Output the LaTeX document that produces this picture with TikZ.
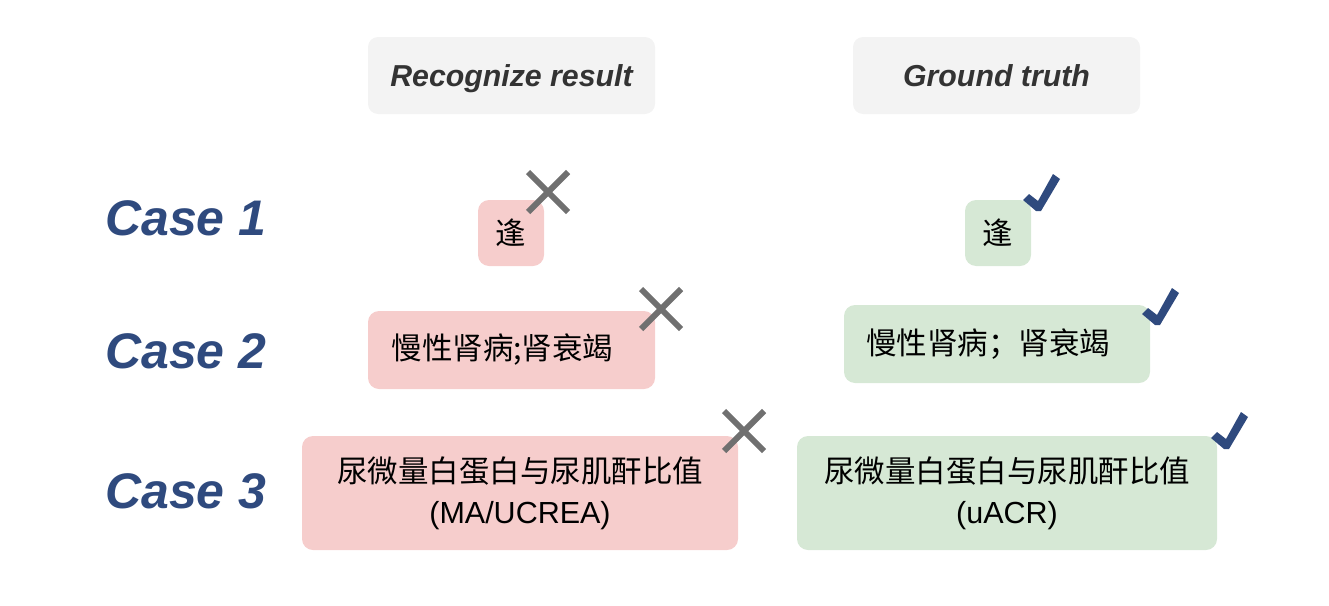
\documentclass[tikz,border=0pt]{standalone}
\usepackage{fontspec}
\setmainfont{Liberation Sans}
\newfontfamily\cjk{Noto Sans CJK SC}
\definecolor{hdrfill}{HTML}{F3F3F3}
\definecolor{hdrtext}{HTML}{333333}
\definecolor{redfill}{HTML}{F6CDCC}
\definecolor{greenfill}{HTML}{D6E8D5}
\definecolor{casecol}{HTML}{2F4A7E}
\definecolor{xcol}{HTML}{707070}
\tikzset{
  hdr/.style={fill=hdrfill, rounded corners=10pt, minimum width=287pt, minimum height=77pt, inner sep=0pt,
    text height=21pt, text depth=0pt,
    text=hdrtext, font=\fontsize{30.3}{36}\selectfont\bfseries\itshape},
  casebox/.style={rounded corners=11pt, inner sep=0pt, align=center, text=black,
    font=\fontsize{30.5}{41}\selectfont\cjk},
  redbox/.style={casebox, fill=redfill},
  greenbox/.style={casebox, fill=greenfill},
  caselabel/.style={anchor=west, inner sep=0pt, text=casecol, font=\fontsize{50}{58}\selectfont\bfseries\itshape},
  xmark/.style={draw=xcol, line width=6pt},
  checkmark/.style={fill=casecol},
  pics/cross/.style={code={
    \draw[xmark] (-20,-20) -- (20,20);
    \draw[xmark] (20,-20) -- (-20,20);}},
  pics/tick/.style={code={
    \fill[checkmark] (-15,-8) -- (-9,-14) -- (0,-7) -- (15,-34) -- (22,-29) -- (3,3) -- (-2,3) -- cycle;}}
}
\begin{document}
\begin{tikzpicture}[x=1pt,y=-1pt]
\useasboundingbox (0,0) rectangle (1329,605);
% headers
\node[hdr] (h1) at (511.5,75.5) {Recognize result};
\node[hdr] (h2) at (996.5,75.5) {Ground truth};
% case labels
\node[caselabel] (c1) at (105,218) {Case 1};
\node[caselabel] (c2) at (105,351) {Case 2};
\node[caselabel] (c3) at (105,491) {Case 3};
% case 1
\node[redbox, minimum width=66pt, minimum height=66pt] (r1) at (511,233) {逢};
\node[greenbox, minimum width=66pt, minimum height=66pt] (g1) at (998,233) {逢};
% case 2
\node[redbox, minimum width=287pt, minimum height=78pt] (r2) at (511.5,350) {\hspace*{-18pt}慢性肾病;肾衰竭};
\node[greenbox, minimum width=306pt, minimum height=78pt] (g2) at (997,344) {\hspace*{-18pt}慢性肾病；肾衰竭};
% case 3
\node[redbox, minimum width=436pt, minimum height=114pt] (r3) at (520,493) {尿微量白蛋白与尿肌酐比值\\{\fontspec{Liberation Sans}(MA/UCREA)}};
\node[greenbox, minimum width=420pt, minimum height=114pt] (g3) at (1007,493) {尿微量白蛋白与尿肌酐比值\\{\fontspec{Liberation Sans}(uACR)}};
% marks
\pic at (548,192) {cross};
\pic at (661,309) {cross};
\pic at (744,431) {cross};
\pic at (1038,208) {tick};
\pic at (1157,322) {tick};
\pic at (1226,446) {tick};
\end{tikzpicture}
\end{document}
